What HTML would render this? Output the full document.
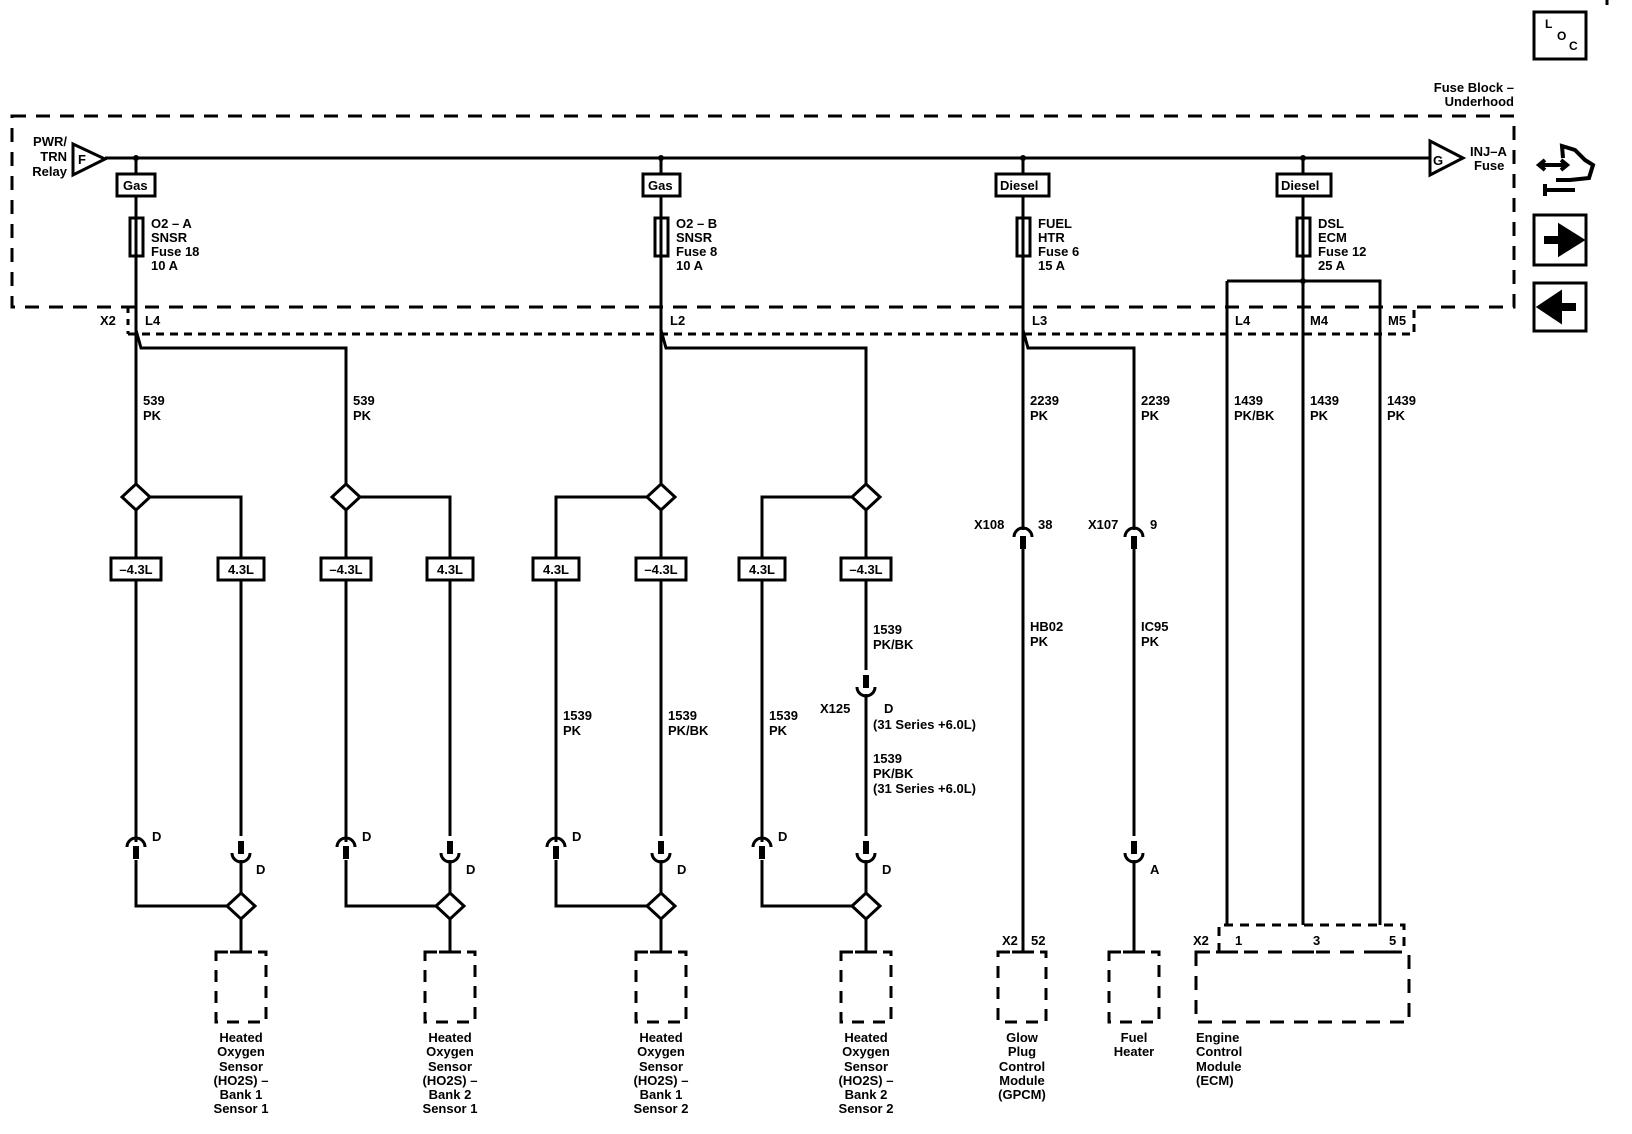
<!DOCTYPE html>
<html><head><meta charset="utf-8"><style>
html,body{margin:0;padding:0;background:#fff;}
svg{display:block;}
text{font-family:"Liberation Sans",Arial,sans-serif;font-size:13px;font-weight:bold;fill:#000;}
</style></head><body>
<svg width="1632" height="1134" viewBox="0 0 1632 1134" xmlns="http://www.w3.org/2000/svg">
<defs>
<polygon id="dia" points="0,-13 14,0 0,13 -14,0" fill="#fff" stroke="#000" stroke-width="3"/>
<g id="cu"><path d="M-9,5 A9,9 0 0 1 9,5" fill="none" stroke="#000" stroke-width="3"/><rect x="-3" y="4" width="6" height="13" fill="#000"/></g>
<g id="cd"><rect x="-3" y="-17" width="6" height="13" fill="#000"/><path d="M-9,-5 A9,9 0 0 0 9,-5" fill="none" stroke="#000" stroke-width="3"/></g>
</defs>
<g stroke="#000" stroke-width="3" fill="none">
<!-- outer fuse block -->
<rect x="12" y="116" width="1502" height="191" stroke-dasharray="14,10"/>
<!-- X2 dotted -->
<path d="M128,334 H1414 V307" stroke-dasharray="8,6"/>
<path d="M128,307 V334" stroke-dasharray="6,6"/>
<!-- bus -->
<path d="M105,158 H1430"/>
<polygon points="73,144 105,159 73,175" fill="#fff"/>
<polygon points="1430,141 1463,158 1430,175" fill="#fff"/>
<!-- LOC & icons -->
<rect x="1534" y="12" width="52" height="47"/>
<rect x="1534" y="215" width="52" height="50"/>
<rect x="1534" y="283" width="52" height="48"/>
<path d="M1607,0 V5"/>
</g>
<path d="M1544,240 H1562 V230 L1578,240 L1562,250 V240" fill="#000" stroke="#000" stroke-width="8" stroke-linejoin="miter"/>
<path d="M1576,307 H1558 V297 L1543,307 L1558,317 V307" fill="#000" stroke="#000" stroke-width="8"/>
<g stroke="#000" stroke-width="4" fill="none">
<path d="M1539,165 H1567 M1545,160 L1539,165 L1545,170 M1561,160 L1567,165 L1561,170"/>
<path d="M1563,158 L1562,146 L1575,150 L1585,160 L1593,165 L1589,178 L1570,180 L1556,180"/>
<path d="M1546,190 H1575 M1545,184 V196"/>
</g>
<text x="1545" y="28" style="font-size:12px">L</text>
<text x="1557" y="40" style="font-size:12px">O</text>
<text x="1569" y="50" style="font-size:12px">C</text>

<text x="1514" y="92" text-anchor="end">Fuse Block –</text>
<text x="1514" y="106" text-anchor="end">Underhood</text>
<text x="67" y="146" text-anchor="end">PWR/</text>
<text x="67" y="161" text-anchor="end">TRN</text>
<text x="67" y="176" text-anchor="end">Relay</text>
<text x="78" y="164">F</text>
<text x="1433" y="165">G</text>
<text x="1470" y="156">INJ–A</text>
<text x="1474" y="170">Fuse</text>

<g stroke="#000" stroke-width="3" fill="none">
<!-- main columns top -->
<path d="M136,158 V330 L141,348 H346 V497"/>
<path d="M136,330 V497"/>
<path d="M661,158 V330 L666,348 H866 V497"/>
<path d="M661,330 V497"/>
<path d="M1023,158 V330 L1028,348 H1134 V530"/>
<path d="M1023,330 V530"/>
<path d="M1303,158 V925"/>
<path d="M1227,281 H1380 V925 M1227,281 V925"/>
<!-- option boxes & fuses -->
<rect x="117" y="174" width="38" height="22" fill="#fff"/>
<rect x="643" y="174" width="37" height="22" fill="#fff"/>
<rect x="996" y="174" width="53" height="22" fill="#fff"/>
<rect x="1277" y="174" width="54" height="22" fill="#fff"/>
<rect x="130" y="218" width="13" height="38" fill="#fff"/>
<rect x="655" y="218" width="13" height="38" fill="#fff"/>
<rect x="1017" y="218" width="13" height="38" fill="#fff"/>
<rect x="1297" y="218" width="13" height="38" fill="#fff"/>
<path d="M136,218 V256 M661,218 V256 M1023,218 V256 M1303,218 V256"/>
</g>
<circle cx="136" cy="158" r="3"/><circle cx="661" cy="158" r="3"/><circle cx="1023" cy="158" r="3"/><circle cx="1303" cy="158" r="3"/><circle cx="1303" cy="281" r="3"/>
<text x="123" y="190">Gas</text><text x="648" y="190">Gas</text>
<text x="1000" y="190">Diesel</text><text x="1281" y="190">Diesel</text>
<text x="151" y="228">O2 – A</text><text x="151" y="242">SNSR</text><text x="151" y="256">Fuse 18</text><text x="151" y="270">10 A</text>
<text x="676" y="228">O2 – B</text><text x="676" y="242">SNSR</text><text x="676" y="256">Fuse 8</text><text x="676" y="270">10 A</text>
<text x="1038" y="228">FUEL</text><text x="1038" y="242">HTR</text><text x="1038" y="256">Fuse 6</text><text x="1038" y="270">15 A</text>
<text x="1318" y="228">DSL</text><text x="1318" y="242">ECM</text><text x="1318" y="256">Fuse 12</text><text x="1318" y="270">25 A</text>
<text x="100" y="325">X2</text>
<text x="145" y="325">L4</text><text x="670" y="325">L2</text><text x="1032" y="325">L3</text>
<text x="1235" y="325">L4</text><text x="1310" y="325">M4</text><text x="1388" y="325">M5</text>
<text x="143" y="405">539</text><text x="143" y="420">PK</text>
<text x="353" y="405">539</text><text x="353" y="420">PK</text>
<text x="1030" y="405">2239</text><text x="1030" y="420">PK</text>
<text x="1141" y="405">2239</text><text x="1141" y="420">PK</text>
<text x="1234" y="405">1439</text><text x="1234" y="420">PK/BK</text>
<text x="1310" y="405">1439</text><text x="1310" y="420">PK</text>
<text x="1387" y="405">1439</text><text x="1387" y="420">PK</text>

<!-- sensor groups -->
<g stroke="#000" stroke-width="3" fill="none">
<path d="M136,497 V842 M136,860 V906 H241 M150,497 H241 V836 M241,860 V952"/>
<path d="M346,497 V842 M346,860 V906 H450 M360,497 H450 V836 M450,860 V952"/>
<path d="M647,497 H556 V842 M556,860 V906 H661 M661,497 V836 M661,860 V952"/>
<path d="M852,497 H762 V842 M762,860 V906 H866 M866,497 V670 M866,694 V836 M866,860 V952"/>
<path d="M1023,538 V952 M1134,538 V836 M1134,860 V952"/>
<rect x="216" y="952" width="50" height="70" stroke-dasharray="12,9"/>
<rect x="425" y="952" width="50" height="70" stroke-dasharray="12,9"/>
<rect x="636" y="952" width="50" height="70" stroke-dasharray="12,9"/>
<rect x="841" y="952" width="50" height="70" stroke-dasharray="12,9"/>
<rect x="998" y="952" width="48" height="70" stroke-dasharray="12,9"/>
<rect x="1109" y="952" width="50" height="70" stroke-dasharray="12,9"/>
<rect x="1196" y="952" width="213" height="70" stroke-dasharray="14,10"/>
<path d="M1219,952 V925 H1404 V952" stroke-dasharray="9,7"/>
<path d="M230,952 H252 M439,952 H461 M650,952 H672 M855,952 H877 M1012,952 H1034 M1123,952 H1145 M1216,952 H1238 M1292,952 H1314 M1369,952 H1391"/>
</g>
<use href="#dia" x="136" y="497"/><use href="#dia" x="346" y="497"/><use href="#dia" x="661" y="497"/><use href="#dia" x="866" y="497"/>
<use href="#dia" x="241" y="906"/><use href="#dia" x="450" y="906"/><use href="#dia" x="661" y="906"/><use href="#dia" x="866" y="906"/>
<use href="#cu" x="136" y="842"/><use href="#cu" x="346" y="842"/><use href="#cu" x="556" y="842"/><use href="#cu" x="762" y="842"/>
<use href="#cd" x="241" y="858"/><use href="#cd" x="450" y="858"/><use href="#cd" x="661" y="858"/><use href="#cd" x="866" y="858"/>
<use href="#cd" x="866" y="692"/><use href="#cd" x="1134" y="858"/>
<use href="#cu" x="1023" y="532"/><use href="#cu" x="1134" y="532"/>

<g stroke="#000" stroke-width="3" fill="#fff">
<rect x="111" y="558" width="50" height="22"/><rect x="218" y="558" width="46" height="22"/>
<rect x="321" y="558" width="50" height="22"/><rect x="427" y="558" width="46" height="22"/>
<rect x="533" y="558" width="46" height="22"/><rect x="636" y="558" width="50" height="22"/>
<rect x="739" y="558" width="46" height="22"/><rect x="841" y="558" width="50" height="22"/>
</g>
<text x="136" y="574" text-anchor="middle">–4.3L</text><text x="241" y="574" text-anchor="middle">4.3L</text>
<text x="346" y="574" text-anchor="middle">–4.3L</text><text x="450" y="574" text-anchor="middle">4.3L</text>
<text x="556" y="574" text-anchor="middle">4.3L</text><text x="661" y="574" text-anchor="middle">–4.3L</text>
<text x="762" y="574" text-anchor="middle">4.3L</text><text x="866" y="574" text-anchor="middle">–4.3L</text>

<text x="563" y="720">1539</text><text x="563" y="735">PK</text>
<text x="668" y="720">1539</text><text x="668" y="735">PK/BK</text>
<text x="769" y="720">1539</text><text x="769" y="735">PK</text>
<text x="873" y="634">1539</text><text x="873" y="649">PK/BK</text>
<text x="820" y="713">X125</text><text x="884" y="713">D</text>
<text x="873" y="729">(31 Series +6.0L)</text>
<text x="873" y="763">1539</text><text x="873" y="778">PK/BK</text><text x="873" y="793">(31 Series +6.0L)</text>
<text x="974" y="529">X108</text><text x="1038" y="529">38</text>
<text x="1088" y="529">X107</text><text x="1150" y="529">9</text>
<text x="1030" y="631">HB02</text><text x="1030" y="646">PK</text>
<text x="1141" y="631">IC95</text><text x="1141" y="646">PK</text>
<text x="152" y="841">D</text><text x="362" y="841">D</text><text x="572" y="841">D</text><text x="778" y="841">D</text>
<text x="256" y="874">D</text><text x="466" y="874">D</text><text x="677" y="874">D</text><text x="882" y="874">D</text><text x="1150" y="874">A</text>
<text x="1002" y="945">X2</text><text x="1031" y="945">52</text>
<text x="1193" y="945">X2</text><text x="1235" y="945">1</text><text x="1313" y="945">3</text><text x="1389" y="945">5</text>

<g text-anchor="middle">
<text x="241" y="1042">Heated</text><text x="241" y="1056">Oxygen</text><text x="241" y="1071">Sensor</text><text x="241" y="1085">(HO2S)  –</text><text x="241" y="1099">Bank 1</text><text x="241" y="1113">Sensor 1</text>
<text x="450" y="1042">Heated</text><text x="450" y="1056">Oxygen</text><text x="450" y="1071">Sensor</text><text x="450" y="1085">(HO2S)  –</text><text x="450" y="1099">Bank 2</text><text x="450" y="1113">Sensor 1</text>
<text x="661" y="1042">Heated</text><text x="661" y="1056">Oxygen</text><text x="661" y="1071">Sensor</text><text x="661" y="1085">(HO2S)  –</text><text x="661" y="1099">Bank 1</text><text x="661" y="1113">Sensor 2</text>
<text x="866" y="1042">Heated</text><text x="866" y="1056">Oxygen</text><text x="866" y="1071">Sensor</text><text x="866" y="1085">(HO2S)  –</text><text x="866" y="1099">Bank 2</text><text x="866" y="1113">Sensor 2</text>
<text x="1022" y="1042">Glow</text><text x="1022" y="1056">Plug</text><text x="1022" y="1071">Control</text><text x="1022" y="1085">Module</text><text x="1022" y="1099">(GPCM)</text>
<text x="1134" y="1042">Fuel</text><text x="1134" y="1056">Heater</text>
</g>
<text x="1196" y="1042">Engine</text><text x="1196" y="1056">Control</text><text x="1196" y="1071">Module</text><text x="1196" y="1085">(ECM)</text>
</svg>
</body></html>
